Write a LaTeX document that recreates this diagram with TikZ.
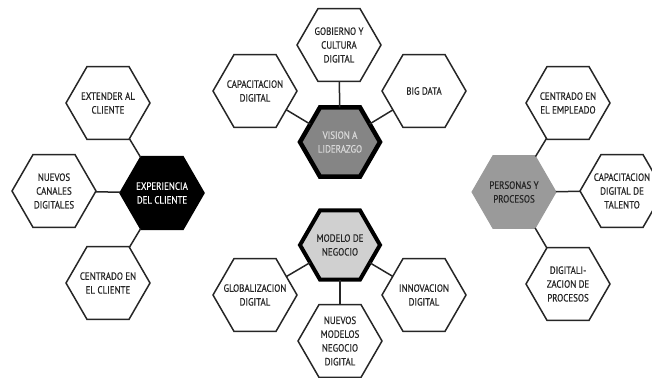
\documentclass[tikz,border=0pt]{standalone}
\usepackage{fontspec}
\setmainfont{PT Sans}[FakeStretch=0.85, FakeBold=0.5]
\usetikzlibrary{shapes.geometric}
\definecolor{visfill}{HTML}{858585}
\definecolor{modfill}{HTML}{D0D0D0}
\definecolor{perfill}{HTML}{9A9A9A}
\definecolor{ink}{HTML}{262626}
\tikzset{
  hexbase/.style={regular polygon, regular polygon sides=6, minimum size=84pt,
    inner sep=0pt, outer sep=0pt},
  hexw/.style={hexbase, draw=ink, line width=1.5pt, fill=white},
  hexblack/.style={hexbase, draw=black, line width=1.5pt, fill=black},
  hexvis/.style={hexbase, draw=black, line width=4.5pt, fill=visfill, minimum size=80pt},
  hexmod/.style={hexbase, draw=black, line width=4pt, fill=modfill, minimum size=80pt},
  hexper/.style={hexbase, draw=perfill, line width=1pt, fill=perfill},
  lbl/.style={align=center, font=\fontsize{10.5}{13.8}\selectfont, text=ink, inner sep=0pt},
  link/.style={draw=ink, line width=1.5pt}
}
\begin{document}
\begin{tikzpicture}[x=1pt, y=-1pt]
\useasboundingbox (0,0) rectangle (652,377);

% customer experience cluster
\node[hexblack] (exp) at (162,193) {};
\node[hexw] (ext) at (108,103) {};
\node[hexw] (can) at (54,191) {};
\node[hexw] (cen) at (108,283) {};
\draw[link] (ext) -- (exp);
\draw[link] (can) -- (exp);
\draw[link] (cen) -- (exp);
\node[lbl, text=white] (exp-t) at (exp) {EXPERIENCIA\\DEL CLIENTE};
\node[lbl] (ext-t) at (ext) {EXTENDER AL\\CLIENTE};
\node[lbl] (can-t) at (can) {NUEVOS\\CANALES\\DIGITALES};
\node[lbl] (cen-t) at (cen) {CENTRADO EN\\EL CLIENTE};

% vision and leadership cluster
\node[hexw] (gob) at (339,45) {};
\node[hexw] (capd) at (255,91) {};
\node[hexw] (big) at (424,91) {};
\node[hexvis] (vis) at (340,142) {};
\draw[link] (gob) -- (vis);
\draw[link] (capd) -- (vis);
\draw[link] (big) -- (vis);
\node[lbl, text=white!85!black] (vis-t) at (vis) {VISION A\\LIDERAZGO};
\node[lbl] (gob-t) at (gob) {GOBIERNO Y\\CULTURA\\DIGITAL};
\node[lbl] (capd-t) at (capd) {CAPACITACION\\DIGITAL};
\node[lbl] (big-t) at (big) {BIG DATA};

% business model cluster
\node[hexmod] (mod) at (340,245) {};
\node[hexw] (glo) at (255,295) {};
\node[hexw] (inn) at (424,295) {};
\node[hexw] (nmn) at (340,341) {};
\draw[link] (mod) -- (glo);
\draw[link] (mod) -- (inn);
\draw[link] (mod) -- (nmn);
\node[lbl] (mod-t) at (mod) {MODELO DE\\NEGOCIO};
\node[lbl] (glo-t) at (glo) {GLOBALIZACION\\DIGITAL};
\node[lbl] (inn-t) at (inn) {INNOVACION\\DIGITAL};
\node[lbl] (nmn-t) at (nmn) {NUEVOS\\MODELOS\\NEGOCIO\\DIGITAL};

% people and processes cluster
\node[hexper] (per) at (514,192) {};
\node[hexw] (emp) at (568,103) {};
\node[hexw] (tal) at (622,191) {};
\node[hexw] (dig) at (568,284) {};
\draw[link] (per) -- (emp);
\draw[link] (per) -- (tal);
\draw[link] (per) -- (dig);
\node[lbl] (per-t) at (per) {PERSONAS Y\\PROCESOS};
\node[lbl] (emp-t) at (emp) {CENTRADO EN\\EL EMPLEADO};
\node[lbl] (tal-t) at (tal) {CAPACITACION\\DIGITAL DE\\TALENTO};
\node[lbl] (dig-t) at (dig) {DIGITALI-\\ZACION DE\\PROCESOS};
\end{tikzpicture}
\end{document}
